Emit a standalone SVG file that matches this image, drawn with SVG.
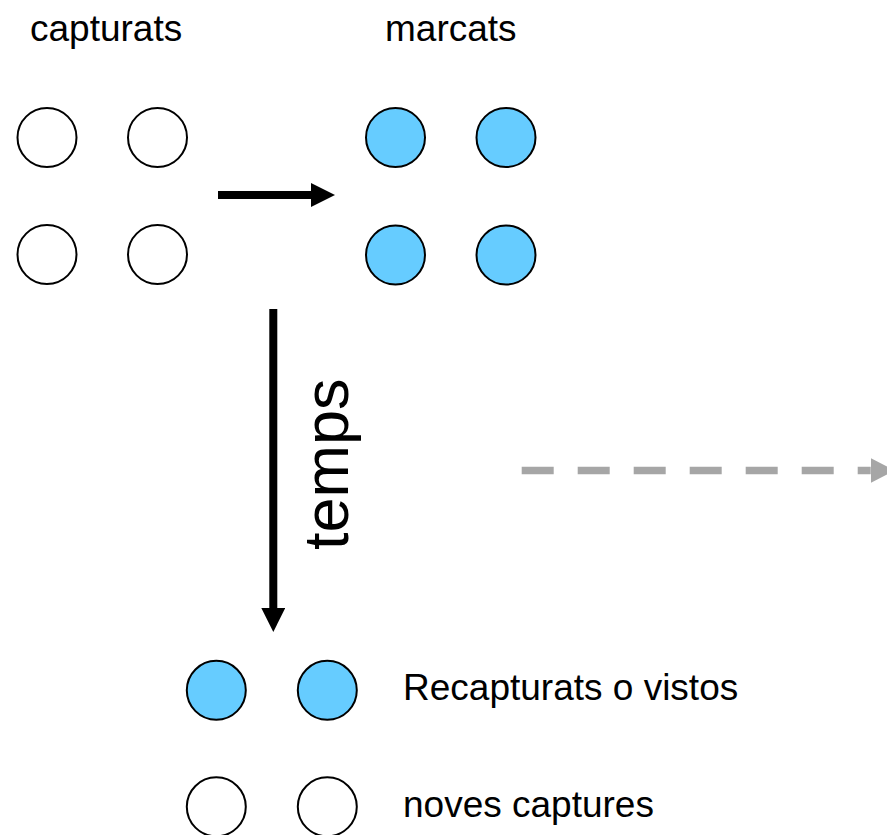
<svg xmlns="http://www.w3.org/2000/svg" width="887" height="835" viewBox="0 0 887 835">
  <style>
    .lbl { font-family: "Liberation Sans", Arial, sans-serif; font-size: 37px; fill: #000; }
    .big { font-family: "Liberation Sans", Arial, sans-serif; font-size: 63px; fill: #000; }
    .open { fill: #fff; stroke: #000; stroke-width: 2; }
    .mark { fill: #66CCFF; stroke: #000; stroke-width: 2; }
  </style>
  <defs>
    <marker id="ah" markerUnits="userSpaceOnUse" markerWidth="24" markerHeight="24" refX="0" refY="12" orient="auto" viewBox="0 0 24 24">
      <path d="M0,0 L24,12 L0,24 Z" fill="#000"/>
    </marker>
    <marker id="ahg" markerUnits="userSpaceOnUse" markerWidth="24" markerHeight="25" refX="0" refY="12.5" orient="auto" viewBox="0 0 24 25">
      <path d="M0,0 L24,12.5 L0,25 Z" fill="#A6A6A6"/>
    </marker>
  </defs>
  <rect width="887" height="835" fill="#fff"/>

  <g id="captured">
    <text class="lbl" x="30" y="41">capturats</text>
    <circle class="open" cx="47" cy="137.5" r="29.5"/>
    <circle class="open" cx="157.5" cy="137.5" r="29.5"/>
    <circle class="open" cx="47" cy="254.5" r="29.5"/>
    <circle class="open" cx="157.5" cy="254.5" r="29.5"/>
  </g>

  <g id="marked">
    <text class="lbl" x="385" y="41">marcats</text>
    <circle class="mark" cx="395.5" cy="137.5" r="29.5"/>
    <circle class="mark" cx="506" cy="137.5" r="29.5"/>
    <circle class="mark" cx="395.5" cy="255" r="29.5"/>
    <circle class="mark" cx="506" cy="255" r="29.5"/>
  </g>

  <g id="recaptured">
    <circle class="mark" cx="216.3" cy="690.3" r="29.5"/>
    <circle class="mark" cx="327.3" cy="690.3" r="29.5"/>
    <text class="lbl" x="403" y="699.5">Recapturats o vistos</text>
  </g>

  <g id="new-captures">
    <circle class="open" cx="216.3" cy="806.8" r="29.5"/>
    <circle class="open" cx="327.3" cy="806.8" r="29.5"/>
    <text class="lbl" x="403" y="816.5">noves captures</text>
  </g>

  <g id="time-label">
    <text class="big" transform="translate(348,550) rotate(-90)">temps</text>
  </g>

  <g id="connectors">
    <line x1="218" y1="195" x2="311" y2="195" stroke="#000" stroke-width="8" marker-end="url(#ah)"/>
    <line x1="273.3" y1="309" x2="273.3" y2="608" stroke="#000" stroke-width="8" marker-end="url(#ah)"/>
    <line x1="521.7" y1="470.5" x2="870.7" y2="470.5" stroke="#A6A6A6" stroke-width="7.5" stroke-dasharray="32 24" marker-end="url(#ahg)"/>
  </g>
</svg>
